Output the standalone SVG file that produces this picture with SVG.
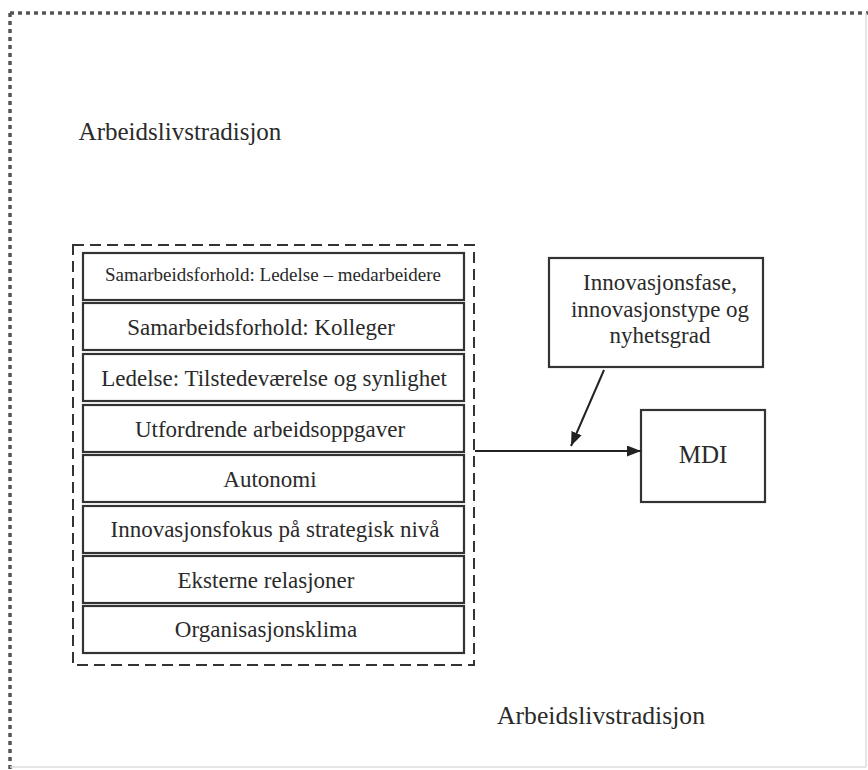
<svg xmlns="http://www.w3.org/2000/svg" width="868" height="770" viewBox="0 0 868 770">
<style>
.t{font-family:"Liberation Serif","Times New Roman",serif;fill:#2a2a2a;text-anchor:middle}
.box{fill:#fff;stroke:#333;stroke-width:2.2}
.conn{stroke:#222;stroke-width:2;fill:none}
</style>
<defs>
<marker id="ah" viewBox="0 0 14 11" refX="14" refY="5.5" markerWidth="14" markerHeight="11" markerUnits="userSpaceOnUse" orient="auto">
<path d="M0,0 L14,5.5 L0,11 z" fill="#222"/>
</marker>
</defs>
<rect width="868" height="770" fill="#fff"/>
<g id="frame">
<line x1="10" y1="13" x2="868" y2="13" stroke="#555" stroke-width="3.5" stroke-dasharray="4 4"/>
<line x1="10" y1="13" x2="10" y2="770" stroke="#555" stroke-width="3.5" stroke-dasharray="4 4"/>
<line x1="866" y1="13" x2="866" y2="767" stroke="#ddd" stroke-width="1.5"/>
<line x1="10" y1="767" x2="866" y2="767" stroke="#ddd" stroke-width="1.5"/>
</g>
<g id="label-top"><text class="t" x="180" y="140" font-size="25">Arbeidslivstradisjon</text></g>
<g id="label-bottom"><text class="t" x="601" y="724" font-size="25" textLength="208" lengthAdjust="spacingAndGlyphs">Arbeidslivstradisjon</text></g>
<g id="group">
<rect x="73" y="245" width="401" height="420" fill="none" stroke="#333" stroke-width="2" stroke-dasharray="11 6"/>
</g>
<g id="n1"><rect class="box" x="83" y="253" width="381" height="47"/><text class="t" x="273" y="281" font-size="19">Samarbeidsforhold: Ledelse – medarbeidere</text></g>
<g id="n2"><rect class="box" x="83" y="303" width="381" height="47"/><text class="t" x="261" y="335" font-size="23">Samarbeidsforhold: Kolleger</text></g>
<g id="n3"><rect class="box" x="83" y="354" width="381" height="47"/><text class="t" x="274" y="386" font-size="23">Ledelse: Tilstedeværelse og synlighet</text></g>
<g id="n4"><rect class="box" x="83" y="405" width="381" height="47"/><text class="t" x="270" y="437" font-size="23">Utfordrende arbeidsoppgaver</text></g>
<g id="n5"><rect class="box" x="83" y="455" width="381" height="47"/><text class="t" x="270" y="487" font-size="23">Autonomi</text></g>
<g id="n6"><rect class="box" x="83" y="506" width="381" height="47"/><text class="t" x="275" y="537" font-size="23">Innovasjonsfokus på strategisk nivå</text></g>
<g id="n7"><rect class="box" x="83" y="556" width="381" height="47"/><text class="t" x="266" y="588" font-size="23">Eksterne relasjoner</text></g>
<g id="n8"><rect class="box" x="83" y="606" width="381" height="47"/><text class="t" x="266" y="637" font-size="23">Organisasjonsklima</text></g>
<g id="moderator"><rect class="box" x="549" y="258" width="214" height="109"/>
<text class="t" x="660" y="290" font-size="23">Innovasjonsfase,</text>
<text class="t" x="660" y="317" font-size="23">innovasjonstype og</text>
<text class="t" x="660" y="343" font-size="23">nyhetsgrad</text></g>
<g id="mdi"><rect class="box" x="641" y="410" width="124" height="92"/><text class="t" x="703" y="463" font-size="25">MDI</text></g>
<g id="connectors">
<line class="conn" x1="475" y1="451" x2="641" y2="451" marker-end="url(#ah)"/>
<line class="conn" x1="604" y1="370" x2="571" y2="446" marker-end="url(#ah)"/>
</g>
</svg>
